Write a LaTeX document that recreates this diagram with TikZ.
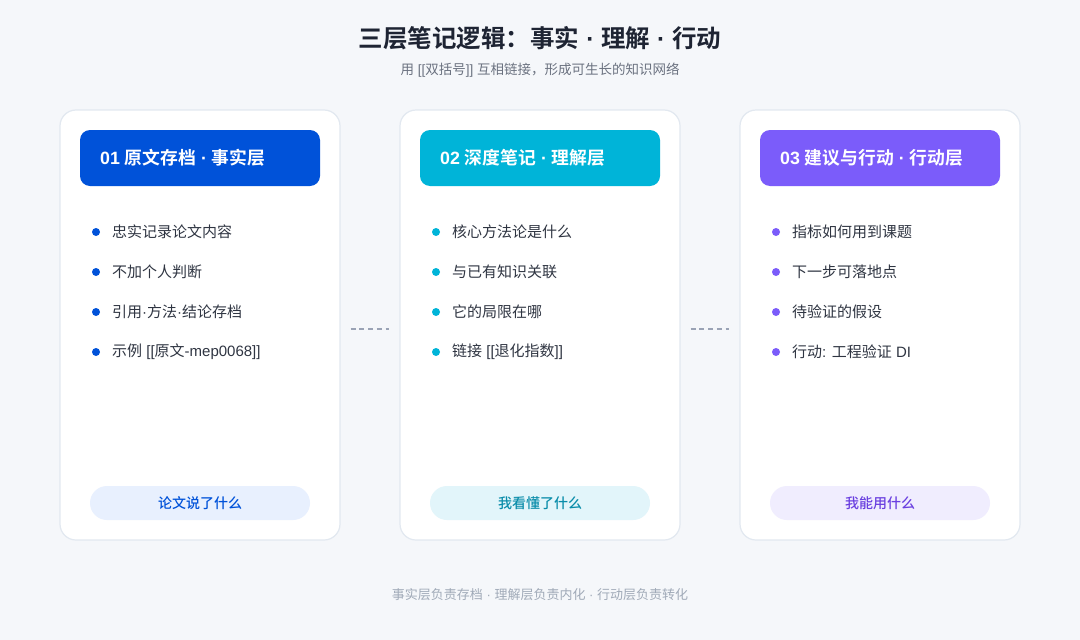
\documentclass[tikz,border=0pt]{standalone}
\usepackage{fontspec}
\setmainfont{Noto Sans CJK SC}
\newfontfamily\cjkbold{Noto Sans CJK SC Bold}
\newfontfamily\cjkmed{Noto Sans CJK SC Medium}
\newfontfamily\latfont{Liberation Sans}
\newcommand\latn[1]{{\latfont #1}}
\newcommand\latb[1]{{\latfont\bfseries #1}}
\definecolor{bg}{HTML}{F5F7FA}
\definecolor{cardborder}{HTML}{E2E8F0}
\definecolor{titlec}{HTML}{1E2433}
\definecolor{subc}{HTML}{6B7280}
\definecolor{bodyc}{HTML}{2F3542}
\definecolor{footc}{HTML}{A0AAB8}
\definecolor{dashc}{HTML}{9AA3B5}
\definecolor{blueA}{HTML}{0052D9}
\definecolor{cyanA}{HTML}{00B4D8}
\definecolor{purpA}{HTML}{7B5CFA}
\definecolor{blueP}{HTML}{E8F0FE}
\definecolor{cyanP}{HTML}{E2F5FA}
\definecolor{purpP}{HTML}{F0EDFE}
\definecolor{blueT}{HTML}{0052D9}
\definecolor{cyanT}{HTML}{0A8DAA}
\definecolor{purpT}{HTML}{6A3FE0}
\tikzset{
  card/.style={draw=cardborder, line width=1.2pt, fill=white, rounded corners=16pt, minimum width=280pt, minimum height=430pt, inner sep=0pt},
  header/.style={rounded corners=10pt, minimum width=240pt, minimum height=56pt, inner sep=0pt},
  headtext/.style={text=white, font=\cjkbold\fontsize{17.8}{20}\selectfont, anchor=west, inner sep=0pt},
  bullettext/.style={text=bodyc, font=\fontsize{15}{18}\selectfont, anchor=west, inner sep=0pt},
  dot/.style={circle, minimum size=8pt, inner sep=0pt},
  pill/.style={rounded corners=17pt, minimum width=220pt, minimum height=34pt, inner sep=0pt, font=\cjkmed\fontsize{14}{17}\selectfont},
  link/.style={draw=dashc, line width=1.4pt, dash pattern=on 5pt off 3.75pt}
}
\begin{document}
\begin{tikzpicture}[x=1pt,y=-1pt]
\fill[bg] (0,0) rectangle (1080,640);
\useasboundingbox (0,0) rectangle (1080,640);
\node[text=titlec, font=\cjkbold\fontsize{24.5}{28}\selectfont] (title) at (540,38) {三层笔记逻辑：事实\latb{ · }理解\latb{ · }行动};
\node[text=subc, font=\fontsize{13.5}{16}\selectfont] (sub) at (540,70) {用\latn{ [[}双括号\latn{]] }互相链接，形成可生长的知识网络};
% cards
\foreach \i/\cx/\hc/\pc/\tc/\head/\pt/\a/\b/\c/\d in {
 1/200/blueA/blueP/blueT/{\latb{01 }原文存档\latb{ · }事实层}/{论文说了什么}/{忠实记录论文内容}/{不加个人判断}/{引用\latn{·}方法\latn{·}结论存档}/{示例\latn{ [[}原文\latn{-mep0068]]}},
 2/540/cyanA/cyanP/cyanT/{\latb{02 }深度笔记\latb{ · }理解层}/{我看懂了什么}/{核心方法论是什么}/{与已有知识关联}/{它的局限在哪}/{链接\latn{ [[}退化指数\latn{]]}},
 3/880/purpA/purpP/purpT/{\latb{03 }建议与行动\latb{ · }行动层}/{我能用什么}/{指标如何用到课题}/{下一步可落地点}/{待验证的假设}/{行动\latn{: }工程验证\latn{ DI}}}{
  \node[card] (card\i) at (\cx,325) {};
  \node[header, fill=\hc] (head\i) at (\cx,158) {};
  \node[headtext] (headt\i) at (\cx-100,158) {\head};
  \node[dot, fill=\hc] (d\i a) at (\cx-104,232) {};
  \node[dot, fill=\hc] (d\i b) at (\cx-104,272) {};
  \node[dot, fill=\hc] (d\i c) at (\cx-104,312) {};
  \node[dot, fill=\hc] (d\i d) at (\cx-104,352) {};
  \node[bullettext] (t\i a) at (\cx-88,232) {\a};
  \node[bullettext] (t\i b) at (\cx-88,272) {\b};
  \node[bullettext] (t\i c) at (\cx-88,312) {\c};
  \node[bullettext] (t\i d) at (\cx-88,352) {\d};
  \node[pill, fill=\pc, text=\tc] (pill\i) at (\cx,503) {\pt};
}
\coordinate (l1s) at ([yshift=-4pt,xshift=10pt]card1.east);
\coordinate (l1e) at ([yshift=-4pt,xshift=-10pt]card2.west);
\coordinate (l2s) at ([yshift=-4pt,xshift=10pt]card2.east);
\coordinate (l2e) at ([yshift=-4pt,xshift=-10pt]card3.west);
\draw[link] (l1s) -- (l1e);
\draw[link] (l2s) -- (l2e);
\node[text=footc, font=\fontsize{13}{15}\selectfont] (foot) at (540,595) {事实层负责存档\latn{ · }理解层负责内化\latn{ · }行动层负责转化};
\end{tikzpicture}
\end{document}
